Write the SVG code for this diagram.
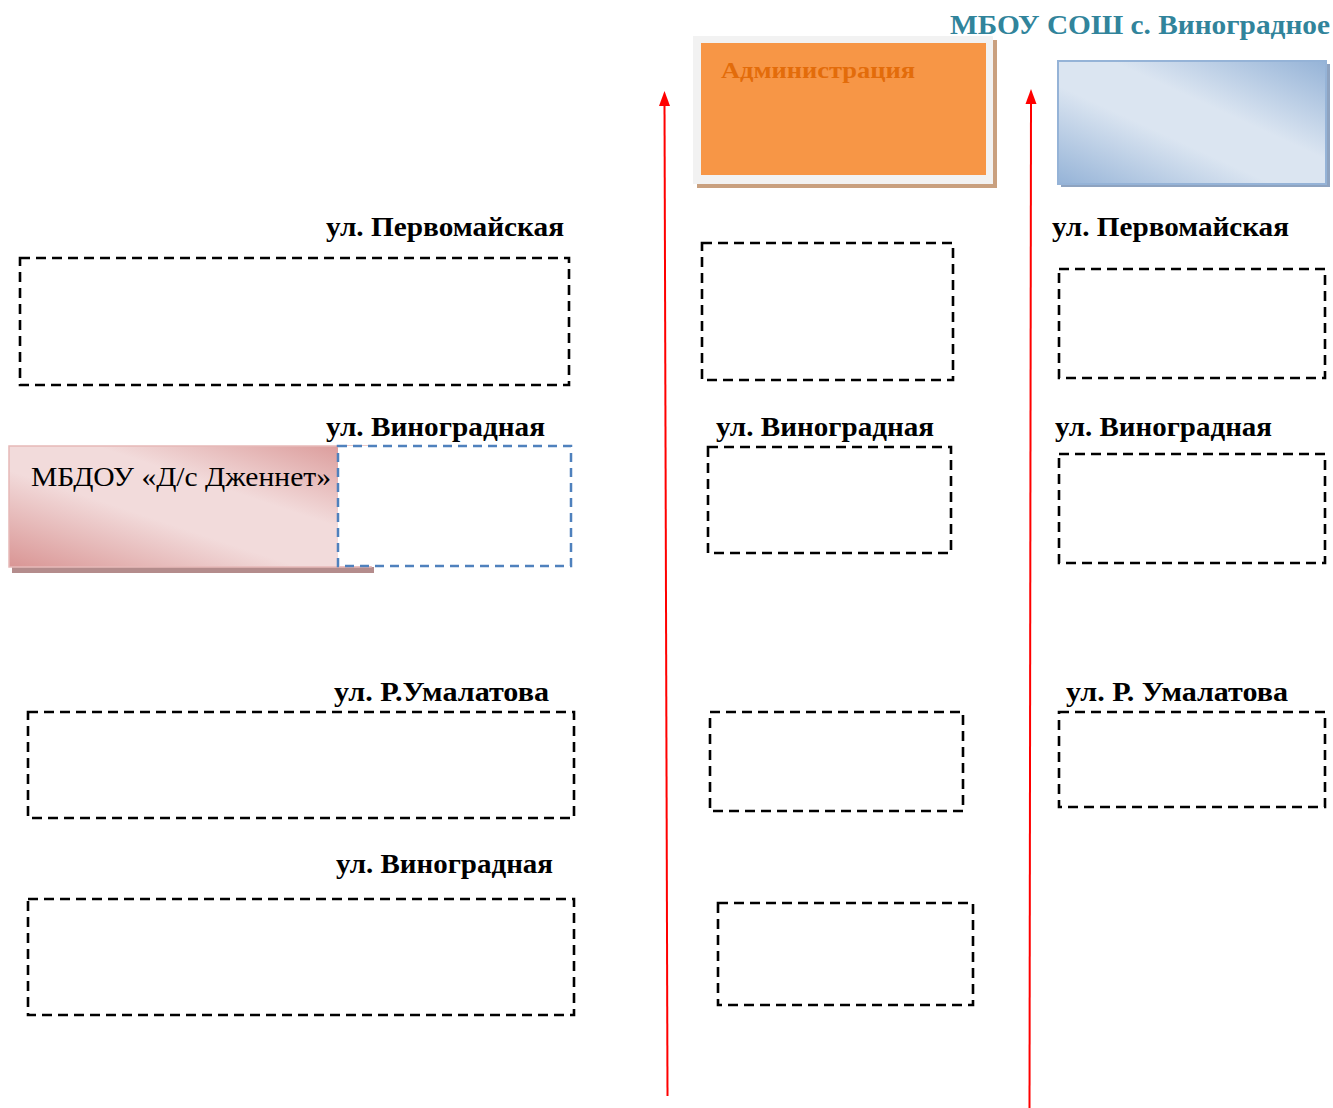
<svg xmlns="http://www.w3.org/2000/svg" width="1333" height="1108" viewBox="0 0 1333 1108">
<defs>
<style>
.lbl{font-family:"Liberation Serif","Times New Roman",serif;font-weight:bold;font-size:27px;fill:#000}
.dash{fill:none;stroke:#000;stroke-width:2.6;stroke-dasharray:10 6}
.road{stroke:#FF0000;stroke-width:2;fill:none}
</style>
<linearGradient id="pinkG" x1="1" y1="0" x2="0" y2="1">
<stop offset="0" stop-color="#D99594"/>
<stop offset="0.38" stop-color="#F2DBDB"/>
<stop offset="0.6" stop-color="#F2DBDB"/>
<stop offset="1" stop-color="#D99594"/>
</linearGradient>
<linearGradient id="blueG" x1="1" y1="0" x2="0" y2="1">
<stop offset="0" stop-color="#95B3D7"/>
<stop offset="0.4" stop-color="#DBE5F1"/>
<stop offset="0.6" stop-color="#DBE5F1"/>
<stop offset="1" stop-color="#95B3D7"/>
</linearGradient>
</defs>
<rect width="1333" height="1108" fill="#fff"/>

<g id="connectors">
<line class="road" x1="667.5" y1="1096" x2="664.5" y2="104"/>
<path d="M664.5,91 L670,106 L659,106 Z" fill="#FF0000"/>
<line class="road" x1="1029.5" y1="1108" x2="1031" y2="102"/>
<path d="M1031,89 L1036.5,104 L1025.5,104 Z" fill="#FF0000"/>
</g>

<g id="title">
<text x="950" y="34" textLength="380" lengthAdjust="spacingAndGlyphs" style="font-family:'Liberation Serif','Times New Roman',serif;font-weight:bold;font-size:28px;fill:#31849B">МБОУ СОШ с. Виноградное</text>
</g>

<g id="admin">
<rect x="697" y="40" width="300" height="148" fill="#C9A07F"/>
<rect x="693" y="36" width="300" height="148" fill="#F2F2F2"/>
<rect x="701" y="43" width="285" height="132" fill="#F79646"/>
<text x="721" y="78" textLength="194" lengthAdjust="spacingAndGlyphs" style="font-family:'Liberation Serif','Times New Roman',serif;font-weight:bold;font-size:24px;fill:#E36C0A">Администрация</text>
</g>

<g id="school">
<rect x="1061" y="64" width="269" height="123" fill="#8EA3C0"/>
<rect x="1058" y="61" width="268" height="123" fill="url(#blueG)" stroke="#95B3D7" stroke-width="2"/>
</g>

<g id="left-col">
<text class="lbl" x="326" y="236" textLength="238" lengthAdjust="spacingAndGlyphs">ул. Первомайская</text>
<rect class="dash" x="20" y="258" width="549" height="127"/>
<text class="lbl" x="326" y="436" textLength="219" lengthAdjust="spacingAndGlyphs">ул. Виноградная</text>
<g id="kindergarten">
<rect x="12" y="567" width="362" height="6" fill="#B48C8C"/>
<rect x="9" y="446" width="362" height="121" fill="url(#pinkG)" stroke="#E6B9B8" stroke-width="1.5"/>
<rect x="338" y="446" width="233" height="120" fill="#fff" stroke="#4F81BD" stroke-width="2.5" stroke-dasharray="9 6"/>
<text x="31" y="486" textLength="300" lengthAdjust="spacingAndGlyphs" style="font-family:'Liberation Serif','Times New Roman',serif;font-size:28px;fill:#000">МБДОУ «Д/с Дженнет»</text>
</g>
<text class="lbl" x="334" y="701" textLength="215" lengthAdjust="spacingAndGlyphs">ул. Р.Умалатова</text>
<rect class="dash" x="28" y="712" width="546" height="106"/>
<text class="lbl" x="336" y="873" textLength="217" lengthAdjust="spacingAndGlyphs">ул. Виноградная</text>
<rect class="dash" x="28" y="899" width="546" height="116"/>
</g>

<g id="mid-col">
<rect class="dash" x="702" y="243" width="251" height="137"/>
<text class="lbl" x="716" y="436" textLength="218" lengthAdjust="spacingAndGlyphs">ул. Виноградная</text>
<rect class="dash" x="708" y="447" width="243" height="106"/>
<rect class="dash" x="710" y="712" width="253" height="99"/>
<rect class="dash" x="718" y="903" width="255" height="102"/>
</g>

<g id="right-col">
<text class="lbl" x="1052" y="236" textLength="237" lengthAdjust="spacingAndGlyphs">ул. Первомайская</text>
<rect class="dash" x="1059" y="269" width="266" height="109"/>
<text class="lbl" x="1055" y="436" textLength="217" lengthAdjust="spacingAndGlyphs">ул. Виноградная</text>
<rect class="dash" x="1059" y="454" width="266" height="109"/>
<text class="lbl" x="1066" y="701" textLength="222" lengthAdjust="spacingAndGlyphs">ул. Р. Умалатова</text>
<rect class="dash" x="1059" y="712" width="266" height="95"/>
</g>
</svg>
